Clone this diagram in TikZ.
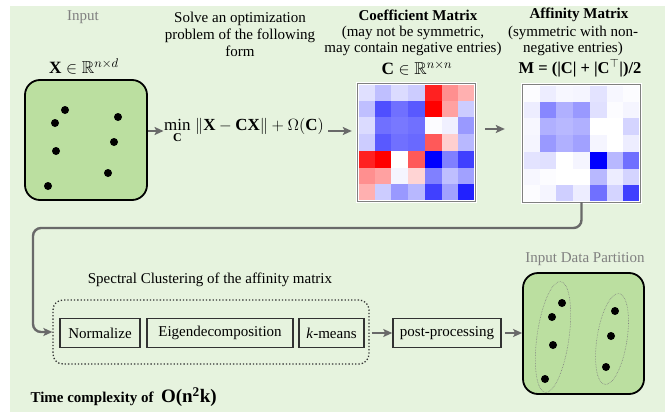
\documentclass[tikz,border=0pt]{standalone}
\usepackage{amsmath,amssymb}
\usepackage{graphicx}
\usepackage{fontspec}
\setmainfont{Liberation Serif}
\usetikzlibrary{arrows.meta}
\definecolor{bgc}{RGB}{230,243,222}
\definecolor{boxfill}{RGB}{187,223,160}
\definecolor{arrgray}{RGB}{105,105,105}
\definecolor{lblgray}{RGB}{128,128,128}
\definecolor{boxline}{RGB}{50,50,50}
\newcommand{\mformtext}{\bfseries\fontsize{16.5}{17}\selectfont M = (|C| + |C$^{\top}$|)/2}
\newcommand{\tctext}{\bfseries Time complexity of\ \ {\fontsize{19}{20}\selectfont O(n\textsuperscript{2}k)}}
\newcommand{\cellsz}{16.714}
\tikzset{
  arr/.style={draw=arrgray, line width=2.2pt, -{Stealth[length=9pt,width=8pt,inset=2pt]}},
  conn/.style={draw=arrgray, line width=2.4pt, rounded corners=8pt, -{Stealth[length=9pt,width=8pt,inset=2pt]}},
  databox/.style={draw=black, line width=1.8pt, fill=boxfill, rounded corners=15pt, minimum width=122pt, minimum height=120pt},
  stepbox/.style={draw=boxline, line width=1.5pt, minimum height=29pt, inner sep=0pt},
  matbox/.style={minimum width=117pt, minimum height=117pt, inner sep=0pt},
  tight/.style={inner sep=0.5pt},
  dot/.style={fill=black},
  ell/.style={draw=lblgray, densely dotted, line width=0.6pt}
}
\begin{document}
\begin{tikzpicture}[x=1pt,y=-1pt,font=\fontsize{15}{17}\selectfont]
\useasboundingbox (0,0) rectangle (669,412);
\fill[bgc] (10,6) rectangle (665,412);

% input
\node[text=lblgray] (inlbl) at (83,17) {Input};
\node (xlbl) at (84,66) {\scalebox{1.15}{$\mathbf{X}\in\mathbb{R}^{n\times d}$}};
\node[databox] (inbox) at (86,140) {};
\foreach \p in {(65,110),(55,123),(56,151),(48,186),(118,117),(114,142),(108,173)}
  \fill[dot] \p circle[radius=4pt];

% optimization
\node[align=center] (solve) at (240,34) {Solve an optimization\\problem of the following\\form};
\node[tight] (form) at (244,131) {\scalebox{1.13}{$\min\limits_{\mathbf{C}}\;\lVert\mathbf{X}-\mathbf{C}\mathbf{X}\rVert+\Omega(\mathbf{C})$}};

% coefficient matrix
\node[tight, font=\bfseries\fontsize{15}{17}\selectfont] (clbl) at (418,15) {Coefficient Matrix};
\node[tight, align=center, font=\fontsize{15}{16.5}\selectfont] (cdesc) at (413,41) {(may not be symmetric,\\may contain negative entries)};
\node[tight] (cform) at (417,68) {\scalebox{1.15}{$\mathbf{C}\in\mathbb{R}^{n\times n}$}};

\foreach \row [count=\ri from 0] in {
  {-12,-25,-14,-20,87,44,31},
  {-25,-69,-56,-65,100,37,-20},
  {-14,-56,-53,-56,-1,-6,-40},
  {-20,-65,-56,-59,65,19,-28},
  {87,100,0,65,-100,-50,-75},
  {44,37,-4,17,-50,-25,-37},
  {31,-20,-40,-28,-75,-37,-87}} {
  \foreach \v [count=\cj from 0] in \row {
    \ifnum\v<0 \pgfmathtruncatemacro\va{-\v}\def\cellcol{blue!\va!white}\else\def\cellcol{red!\v!white}\fi
    \fill[\cellcol] (358+\cj*\cellsz,84+\ri*\cellsz) rectangle ++(\cellsz,\cellsz);
  }
}
\node[matbox] (C) at (416.5,142.5) {};
\draw[white, line width=3pt] (C.south west) rectangle (C.north east);
\draw[gray, line width=1pt] (C.south west) rectangle (C.north east);

% affinity matrix
\node[tight, font=\bfseries\fontsize{15}{17}\selectfont] (mlbl) at (579,15) {Affinity Matrix};
\node[tight, align=center, font=\fontsize{15}{16.5}\selectfont] (mdesc) at (573,41) {(symmetric with non-\\negative entries)};
\node[tight] (mform) at (580,68) {\mformtext};

\foreach \row [count=\ri from 0] in {
  {1,7,3,4,11,3,1},
  {7,47,31,40,12,1,4},
  {3,31,28,31,0,0,17},
  {4,40,31,37,4,0,7},
  {11,12,0,4,100,28,56},
  {3,1,0,0,28,7,17},
  {1,4,19,7,56,17,75}} {
  \foreach \v [count=\cj from 0] in \row {
    \fill[blue!\v!white] (523+\cj*\cellsz,85+\ri*\cellsz) rectangle ++(\cellsz,\cellsz);
  }
}
\node[matbox] (M) at (581.5,143.5) {};
\draw[white, line width=3pt] (M.south west) rectangle (M.north east);
\draw[gray, line width=1pt] (M.south west) rectangle (M.north east);

% top arrows
\draw[arr] (inbox.east |- form) -- (form.west);
\draw[arr, shorten <=4pt, shorten >=6pt] (form.east) -- (form.east -| C.west);
\coordinate (arrlvl) at (0,129);
\draw[arr, shorten <=10pt, shorten >=18pt] (C.east |- arrlvl) -- (M.west |- arrlvl);

% spectral clustering
\node (slbl) at (210,280) {Spectral Clustering of the affinity matrix};
\node[draw=boxline, dotted, line width=1.3pt, rounded corners=10pt, minimum width=316pt, minimum height=64pt] (spec) at (211,332) {};
\node[stepbox, minimum width=80pt] (norm) at (100,333) {Normalize};
\node[stepbox, minimum width=146pt] (eig) at (220,333) {Eigendecomposition};
\node[stepbox, minimum width=65pt] (km) at (331.5,333) {\textit{k}-means};
\node[stepbox, minimum width=108pt] (post) at (447,333) {post-processing};

\coordinate (turn) at (33,228);
\draw[conn] (M.south) -- (M.south |- turn) -- (turn) -- (turn |- spec.west) -- (spec.west);
\draw[arr, shorten <=2pt] (spec.east |- post) -- (post.west);

% output
\node[text=lblgray] (outlbl) at (585,259) {Input Data Partition};
\node[databox, minimum width=121pt, minimum height=121pt] (outbox) at (583.5,333.5) {};
\draw[arr, shorten <=3pt] (post.east) -- (outbox.west |- post);
\draw[ell, rotate around={-8:(553,337)}] (553,337) ellipse [x radius=16pt, y radius=56pt];
\draw[ell, rotate around={-9:(612,339)}] (612,339) ellipse [x radius=15pt, y radius=46pt];
\foreach \p in {(562,303),(552,317),(553,345),(545,379),(615,311),(611,336),(606,367)}
  \fill[dot] \p circle[radius=4pt];

% complexity
\node[anchor=west, font=\fontsize{15}{17}\selectfont] (tc) at (27,397) {\tctext};
\end{tikzpicture}
\end{document}
